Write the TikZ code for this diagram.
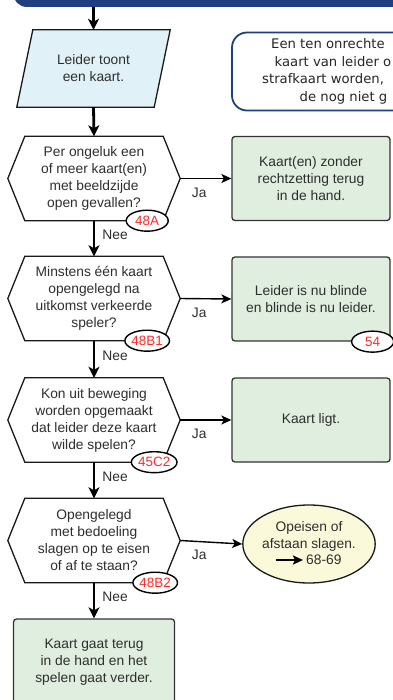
\documentclass[tikz,border=0pt]{standalone}
\usepackage{fontspec}
\setmainfont{Liberation Sans}
\newfontfamily\notefont{DejaVu Sans}
\usetikzlibrary{arrows.meta,shapes.geometric,backgrounds,positioning}

\definecolor{barblue}{HTML}{1F3F7F}
\definecolor{startfill}{HTML}{E1F1F8}
\definecolor{greenfill}{HTML}{E0EEDF}
\definecolor{yellowfill}{HTML}{FAF9DA}
\definecolor{refred}{HTML}{FF2A2A}
\definecolor{textgray}{HTML}{2E2E2E}

\tikzset{
  boxtext/.style={font=\fontsize{13.8}{17}\selectfont, text=textgray, align=center, inner sep=0pt},
  hexbox/.style={boxtext, minimum width=172pt, minimum height=84pt},
  hexline/.style={draw=black!90, line width=1.3pt, fill=white},
  startbox/.style={boxtext, minimum width=153pt, minimum height=77pt},
  startline/.style={draw=black!90, line width=1.3pt, fill=startfill},
  resultbox/.style={boxtext, draw=black!80, line width=1.3pt, fill=greenfill, rounded corners=3pt, minimum width=158pt, minimum height=84pt},
  claimbox/.style={boxtext, ellipse, draw=black!90, line width=1.3pt, fill=yellowfill, minimum width=112pt, minimum height=78pt},
  refmark/.style={ellipse, draw=black, line width=1.4pt, fill=white, minimum width=42pt, minimum height=21pt, inner sep=0pt, text=refred, font=\fontsize{13.5}{13.5}\selectfont},
  titlebar/.style={fill=barblue, rounded corners=14pt, minimum width=406pt, minimum height=48pt, inner sep=0pt},
  notebox/.style={draw=barblue, line width=1.8pt, fill=white, rounded corners=15pt, minimum width=238pt, minimum height=78pt},
  notetext/.style={anchor=base west, inner sep=0pt, font=\notefont\fontsize{13.2}{17}\selectfont, text=black!85},
  flow/.style={line width=2.8pt, -{Stealth[length=11pt,width=11pt,inset=3pt]}},
  yesflow/.style={line width=1.4pt, -{Stealth[length=10pt,width=9pt,inset=2.5pt]}},
  refarrow/.style={line width=2.4pt, -{Stealth[length=10pt,width=9pt,inset=2pt]}, shorten >=3pt},
  jalabel/.style={boxtext, anchor=west, at start, xshift=11pt, yshift=-14pt},
  neelabel/.style={boxtext, anchor=west, pos=0.4, xshift=7pt}
}

% hexagon round a question node
\newcommand{\hexoutline}[1]{%
  \path[hexline] ([xshift=17pt]#1.north west) -- ([xshift=-17pt]#1.north east) -- (#1.east)
    -- ([xshift=-17pt]#1.south east) -- ([xshift=17pt]#1.south west) -- (#1.west) -- cycle;}

\begin{document}
\begin{tikzpicture}[x=1pt,y=-1pt]
\useasboundingbox (0,0) rectangle (392,700);

%Shape: title bar (cut off)
\node[titlebar] (titlebar) at (216,-17) {};

%Shape: start
\node[startbox] (leader) at (93.5,68.5) {Leider toont\\een kaart.};

%Shape: note (cut off)
\node[notebox] (note) at (351,71.5) {};
% Text Node
\node[notetext] (note1) at (271,49) {Een ten onrechte};
\node[notetext] (note2) at (274.5,66.5) {kaart van leider o};
\node[notetext] (note3) at (262,84) {strafkaart worden,};
\node[notetext] (note4) at (299.5,101.5) {de nog niet g};

%Shape: questions
\node[hexbox] (fell) at (94,178.5) {Per ongeluk een\\of meer kaart(en)\\met beeldzijde\\open gevallen?};
\node[hexbox] (early) at (94,298.5) {Minstens één kaart\\opengelegd na\\uitkomst verkeerde\\speler?};
\node[hexbox] (wanted) at (94,420) {Kon uit beweging\\worden opgemaakt\\dat leider deze kaart\\wilde spelen?};
\node[hexbox] (claim) at (94,540.5) {Opengelegd\\met bedoeling\\slagen op te eisen\\of af te staan?};

%Shape: results
\node[resultbox] (putback) at (311,178.5) {Kaart(en) zonder\\rechtzetting terug\\in de hand.};
\node[resultbox] (swap) at (311,299) {Leider is nu blinde\\en blinde is nu leider.};
\node[resultbox] (played) at (311,420) {Kaart ligt.};
\node[claimbox] (claimnode) at (309,544) {Opeisen of\\afstaan slagen.\\\phantom{68-69}};
\node[resultbox, minimum width=161pt, minimum height=86pt] (goon) at (94,662) {Kaart gaat terug\\in de hand en het\\spelen gaat verder.};

\begin{scope}[on background layer]
  \path[startline] ([xshift=16pt]leader.north west) -- (leader.north east)
    -- ([xshift=-16pt]leader.south east) -- (leader.south west) -- cycle;
  \hexoutline{fell}
  \hexoutline{early}
  \hexoutline{wanted}
  \hexoutline{claim}
\end{scope}

%Straight Lines
\draw[flow] (titlebar.south -| leader) -- (leader);
\draw[flow] (leader.south) -- (fell.north);
\draw[flow] (fell.south) -- node[neelabel] {Nee} (early.north);
\draw[flow] (early.south) -- node[neelabel] {Nee} (wanted.north);
\draw[flow] (wanted.south) -- node[neelabel] {Nee} (claim.north);
\draw[flow] (claim.south) -- node[neelabel] {Nee} (goon.north);

\draw[yesflow] (fell.east) -- node[jalabel] {Ja} (putback.west);
\draw[yesflow] (early.east) -- node[jalabel] {Ja} (swap.west);
\draw[yesflow] (wanted.east) -- node[jalabel] {Ja} (played.west);
\draw[yesflow] (claim.east) -- node[jalabel] {Ja} (claimnode.west);

% Text Node
\node[boxtext, anchor=west] (pageref) at (306,560) {68-69};
\coordinate (reftail) at (276,560);
\draw[refarrow] (reftail) -- (pageref.west);

%Shape: rule references
\node[refmark] (refA) at ([xshift=-33pt]fell.south east) {48A};
\node[refmark] (refBone) at ([xshift=-33pt]early.south east) {48B1};
\node[refmark] (refCtwo) at ([xshift=-26pt]wanted.south east) {45C2};
\node[refmark] (refBtwo) at ([xshift=-25pt]claim.south east) {48B2};
\node[refmark] (refswap) at ([xshift=-18pt]swap.south east) {54};

\end{tikzpicture}
\end{document}
